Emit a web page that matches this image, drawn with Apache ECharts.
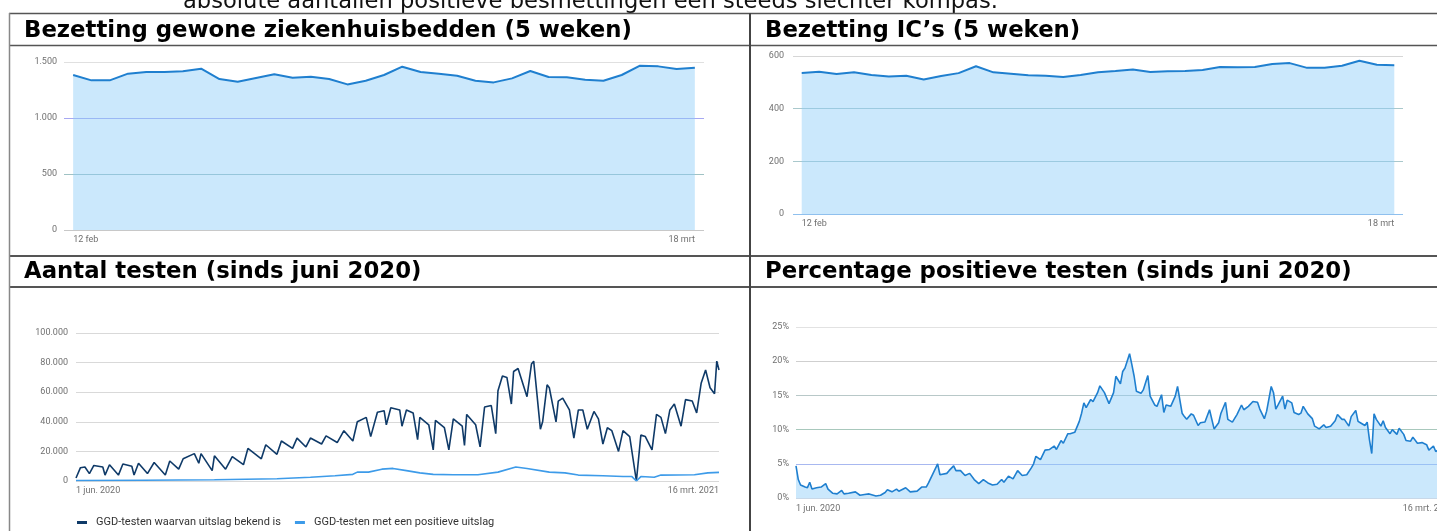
<!DOCTYPE html>
<html>
<head>
<meta charset="utf-8">
<script src="https://cdn.jsdelivr.net/npm/echarts@6.0.0/dist/echarts.min.js"></script>
<style>
  html, body { margin: 0; padding: 0; background: #fff; }
  #main { width: 1437px; height: 531px; }
</style>
</head>
<body>
<div id="main"></div>
<script>
// --- ziekenhuisbedden en IC (12 feb - 18 mrt) ---
var dagen5w = ["12 feb","13 feb","14 feb","15 feb","16 feb","17 feb","18 feb","19 feb","20 feb","21 feb",
  "22 feb","23 feb","24 feb","25 feb","26 feb","27 feb","28 feb","1 mrt","2 mrt","3 mrt","4 mrt","5 mrt",
  "6 mrt","7 mrt","8 mrt","9 mrt","10 mrt","11 mrt","12 mrt","13 mrt","14 mrt","15 mrt","16 mrt","17 mrt","18 mrt"];
var bedden = [1384,1336,1336,1396,1411,1411,1417,1440,1348,1324,1357,1390,1360,1369,1348,1300,1333,1384,
  1458,1411,1396,1378,1333,1318,1354,1420,1366,1363,1342,1333,1384,1467,1461,1437,1449];
var icBedden = [535,540,532,538,528,522,525,511,524,535,561,538,533,527,525,520,528,538,543,549,539,542,
  543,547,558,557,558,570,573,555,555,563,582,567,565];

// --- testen sinds 1 juni 2020 (dag 0 = 1 jun, dag 288 = 16 mrt) ---
var testLabels = ["1 jun. 2020", "16 mrt. 2021"];
var testDagen = [0,2,4,6,8,12,13,15,19,21,25,26,28,32,35,40,42,46,48,53,55,56,61,62,67,70,75,77,83,85,90,92,
  97,99,103,105,110,112,117,120,124,126,130,132,135,138,139,141,145,146,148,151,153,154,158,160,161,165,167,
  169,173,174,175,179,181,183,186,188,189,191,193,195,196,198,202,204,205,208,209,211,212,215,216,218,221,
  223,225,227,229,232,234,236,238,240,243,245,248,251,253,255,258,260,262,264,266,268,271,273,276,278,280,
  282,284,286,287,288];
var testAantal = [2000,9000,9500,5000,10500,9500,4000,11000,4000,11500,10000,4000,12000,5000,12500,4000,
  13500,8000,15000,18500,12000,18500,7000,17000,8000,16500,11000,22000,15000,24500,18000,27000,22000,29000,
  23000,29000,25000,30500,26000,34000,27000,40000,43000,30000,46500,47500,38000,49500,48000,37000,48000,
  46000,28000,43000,38000,21000,41000,36000,21000,42000,37000,24000,45000,38000,23000,50000,51000,32000,
  61000,71000,70000,52000,74000,76000,57000,79000,81000,35000,40000,65000,63000,40000,54000,56000,48000,
  29000,48000,48000,35000,47000,42000,25000,36000,34000,20000,34000,30000,0,31000,30000,21000,45000,43000,
  32000,48000,52000,37000,55000,54000,46000,66000,75000,63000,59000,81000,75000];
var posDagen = [0,30,62,90,105,116,124,126,131,137,142,148,154,160,169,180,189,197,202,212,219,225,236,245,
  249,251,253,259,262,277,283,288];
var posAantal = [300,500,800,1500,2500,3500,4500,6000,6000,8000,8500,7000,5500,4500,4200,4200,6000,9500,
  8500,6000,5500,4000,3500,3000,3000,0,3000,2500,4000,4200,5500,5800];

// --- percentage positief ---
var pctDagen = [0,1,2,4,5,6,7,9,11,13,14,16,18,20,21,23,26,28,30,32,35,37,39,40,42,44,45,48,50,53,55,57,58,
  60,62,63,66,67,69,70,72,74,76,78,80,82,84,86,88,90,91,93,95,97,99,101,103,104,105,107,109,111,113,114,116,
  117,119,120,122,124,125,126,127,129,130,132,133,135,136,137,139,140,142,143,144,146,147,148,149,151,152,
  154,155,157,158,160,161,162,164,166,167,169,170,171,173,174,176,177,179,181,183,185,186,188,189,191,193,
  195,196,198,200,202,203,205,206,208,209,210,211,213,214,215,217,218,220,221,222,224,226,227,229,231,232,
  234,236,237,239,240,242,243,245,246,247,249,250,251,252,253,254,256,257,258,260,261,263,264,266,267,269,
  270,272,274,276,277,279,280,282,284,286,288];
var pctPositief = [4.7,2.7,1.9,1.6,1.5,2.3,1.3,1.5,1.6,2.1,1.3,0.7,0.6,1.1,0.6,0.7,0.9,0.4,0.5,0.6,0.3,0.4,
  0.8,1.2,0.9,1.3,1.0,1.5,0.9,1.0,1.6,1.6,2.2,3.6,5.0,3.4,3.6,4.0,4.7,4.0,4.0,3.3,3.6,2.7,2.1,2.7,2.2,1.9,
  2.0,2.7,2.3,3.2,2.8,4.0,3.3,3.4,4.4,5.0,6.1,5.6,7.0,7.1,7.6,7.1,8.4,8.0,9.4,9.4,9.6,11.2,12.4,13.9,13.2,
  14.4,14.1,15.4,16.4,15.4,14.6,13.8,15.4,17.8,16.7,18.5,19.0,21.1,19.5,17.8,15.6,15.3,15.8,17.9,14.9,13.6,
  13.4,15.1,12.5,13.6,13.4,14.9,16.3,12.4,11.9,11.5,12.3,12.1,10.6,11.0,11.1,12.9,10.1,11.0,12.4,14.0,11.5,
  11.1,12.2,13.6,12.9,13.4,14.1,14.0,13.0,11.6,12.7,16.3,15.4,13.0,13.6,14.9,13.0,14.3,13.9,12.5,12.2,12.4,
  13.4,12.3,11.6,10.5,10.1,10.7,10.3,10.5,11.3,12.2,11.5,11.5,10.5,11.9,12.8,11.2,11.0,10.6,11.1,8.5,6.5,
  12.3,11.5,10.5,11.3,10.3,9.4,10.0,9.3,10.2,9.3,8.4,8.3,8.9,8.0,8.1,7.8,7.0,7.6,6.8,7.2,6.9,7.4,7.0];

var koppen = [
  "Bezetting gewone ziekenhuisbedden (5 weken)",
  "Bezetting IC\u2019s (5 weken)",
  "Aantal testen (sinds juni 2020)",
  "Percentage positieve testen (sinds juni 2020)"
];
var legendaNamen = ["GGD-testen waarvan uitslag bekend is", "GGD-testen met een positieve uitslag"];

function pairs(xs, ys) {
  return xs.map(function (x, i) { return [x, ys[i]]; });
}
function dotThousands(v) {
  return String(v).replace(/\B(?=(\d{3})+(?!\d))/g, ".");
}

var chart = echarts.init(document.getElementById("main"));

var labelFont = { color: "#707070", fontSize: 9, fontFamily: "Roboto" };

function dateAxis(gridIndex) {
  return {
    type: "category", gridIndex: gridIndex, data: dagen5w, boundaryGap: true,
    axisLine: { show: false }, axisTick: { show: false },
    axisLabel: Object.assign({
      margin: 5,
      interval: function (i) { return i === 0 || i === dagen5w.length - 1; },
      alignMinLabel: "left", alignMaxLabel: "right"
    }, labelFont)
  };
}
function dayAxis(gridIndex, margin) {
  return {
    type: "value", gridIndex: gridIndex, min: 0, max: 288, interval: 288,
    axisLine: { show: false }, axisTick: { show: false }, splitLine: { show: false },
    axisLabel: Object.assign({
      margin: margin,
      formatter: function (v) { return v === 0 ? testLabels[0] : testLabels[1]; },
      alignMinLabel: "left", alignMaxLabel: "right"
    }, labelFont)
  };
}
function valAxis(gridIndex, max, interval, fmt, margin, lineColors) {
  return {
    type: "value", gridIndex: gridIndex, min: 0, max: max, interval: interval,
    axisLine: { show: false }, axisTick: { show: false },
    splitLine: { show: true, lineStyle: { color: lineColors, width: 1.2 } },
    axisLabel: Object.assign({ margin: margin, formatter: fmt }, labelFont)
  };
}

var lijn = "#1f7fcf";
// half doorzichtig vlak, zodat de rasterlijnen erdoor schemeren
var vlak = "rgba(140,205,248,0.45)";
var kader = "#555";
var kopFont = 'bold 22.8px "DejaVu Sans"';

option = {
  animation: false,
  backgroundColor: "#fff",
  graphic: [
    { type: "text", style: { x: 183, y: 2, text: "absolute aantallen positieve besmettingen een steeds slechter kompas.",
      font: '22.6px "DejaVu Sans"', fill: "#111", verticalAlign: "middle" } },
    { type: "text", style: { x: 24, y: 31.5, text: koppen[0], font: kopFont, fill: "#000", verticalAlign: "middle" } },
    { type: "text", style: { x: 765, y: 31.5, text: koppen[1], font: kopFont, fill: "#000", verticalAlign: "middle" } },
    { type: "text", style: { x: 24, y: 272, text: koppen[2], font: kopFont, fill: "#000", verticalAlign: "middle" } },
    { type: "text", style: { x: 765, y: 272, text: koppen[3], font: kopFont, fill: "#000", verticalAlign: "middle" } },
    { type: "line", shape: { x1: 9, y1: 13.5, x2: 1437, y2: 13.5 }, style: { stroke: kader, lineWidth: 1.5 } },
    { type: "line", shape: { x1: 9, y1: 45.5, x2: 1437, y2: 45.5 }, style: { stroke: kader, lineWidth: 1.5 } },
    { type: "line", shape: { x1: 9, y1: 256, x2: 1437, y2: 256 }, style: { stroke: kader, lineWidth: 2 } },
    { type: "line", shape: { x1: 9, y1: 287, x2: 1437, y2: 287 }, style: { stroke: kader, lineWidth: 2 } },
    { type: "line", shape: { x1: 9.5, y1: 13, x2: 9.5, y2: 531 }, style: { stroke: "#888", lineWidth: 1.5 } },
    { type: "line", shape: { x1: 750, y1: 13, x2: 750, y2: 531 }, style: { stroke: "#444", lineWidth: 2 } }
  ],
  grid: [
    { left: 64, top: 62, width: 640, height: 168, outerBoundsMode: "none" },
    { left: 793, top: 56, width: 610, height: 158, outerBoundsMode: "none" },
    { left: 76, top: 333, width: 643, height: 148, outerBoundsMode: "none" },
    { left: 796, top: 327, width: 658, height: 171, outerBoundsMode: "none" }
  ],
  legend: {
    data: legendaNamen, left: 72, top: 512, icon: "rect", itemWidth: 10, itemHeight: 3, itemGap: 14,
    textStyle: { color: "#333", fontSize: 11, fontFamily: "Roboto", padding: [0, 0, 0, 4] }
  },
  xAxis: [dateAxis(0), dateAxis(1), dayAxis(2, 5), dayAxis(3, 6)],
  yAxis: [
    valAxis(0, 1500, 500, dotThousands, 7, ["#c8c8c8", "#9fc2c4", "#a6a8f2", "#e0e0e0"]),
    valAxis(1, 600, 200, dotThousands, 9, ["#8fc0ee", "#a9c8cc", "#a9c8cc", "#d6d6d6"]),
    valAxis(2, 100000, 20000, dotThousands, 8, ["#d9d9d9"]),
    valAxis(3, 25, 5, "{value}%", 7, ["#c8d8e8", "#a8b8f0", "#a8c8bc", "#b8c8c8", "#cfcfcf", "#e2e2e2"])
  ],
  series: [
    { type: "line", xAxisIndex: 0, yAxisIndex: 0, data: bedden, symbol: "none",
      lineStyle: { color: lijn, width: 2 }, itemStyle: { color: lijn }, areaStyle: { color: vlak, opacity: 1 } },
    { type: "line", xAxisIndex: 1, yAxisIndex: 1, data: icBedden, symbol: "none",
      lineStyle: { color: lijn, width: 2 }, itemStyle: { color: lijn }, areaStyle: { color: vlak, opacity: 1 } },
    { name: legendaNamen[0], type: "line", xAxisIndex: 2, yAxisIndex: 2, data: pairs(testDagen, testAantal),
      symbol: "none", lineStyle: { color: "#0f3a68", width: 1.6 }, itemStyle: { color: "#0f3a68" } },
    { name: legendaNamen[1], type: "line", xAxisIndex: 2, yAxisIndex: 2, data: pairs(posDagen, posAantal),
      symbol: "none", lineStyle: { color: "#3d9be9", width: 1.6 }, itemStyle: { color: "#3d9be9" } },
    { type: "line", xAxisIndex: 3, yAxisIndex: 3, data: pairs(pctDagen, pctPositief), symbol: "none",
      lineStyle: { color: lijn, width: 1.6 }, itemStyle: { color: lijn }, areaStyle: { color: vlak, opacity: 1 } }
  ]
};

chart.setOption(option);
</script>
</body>
</html>
